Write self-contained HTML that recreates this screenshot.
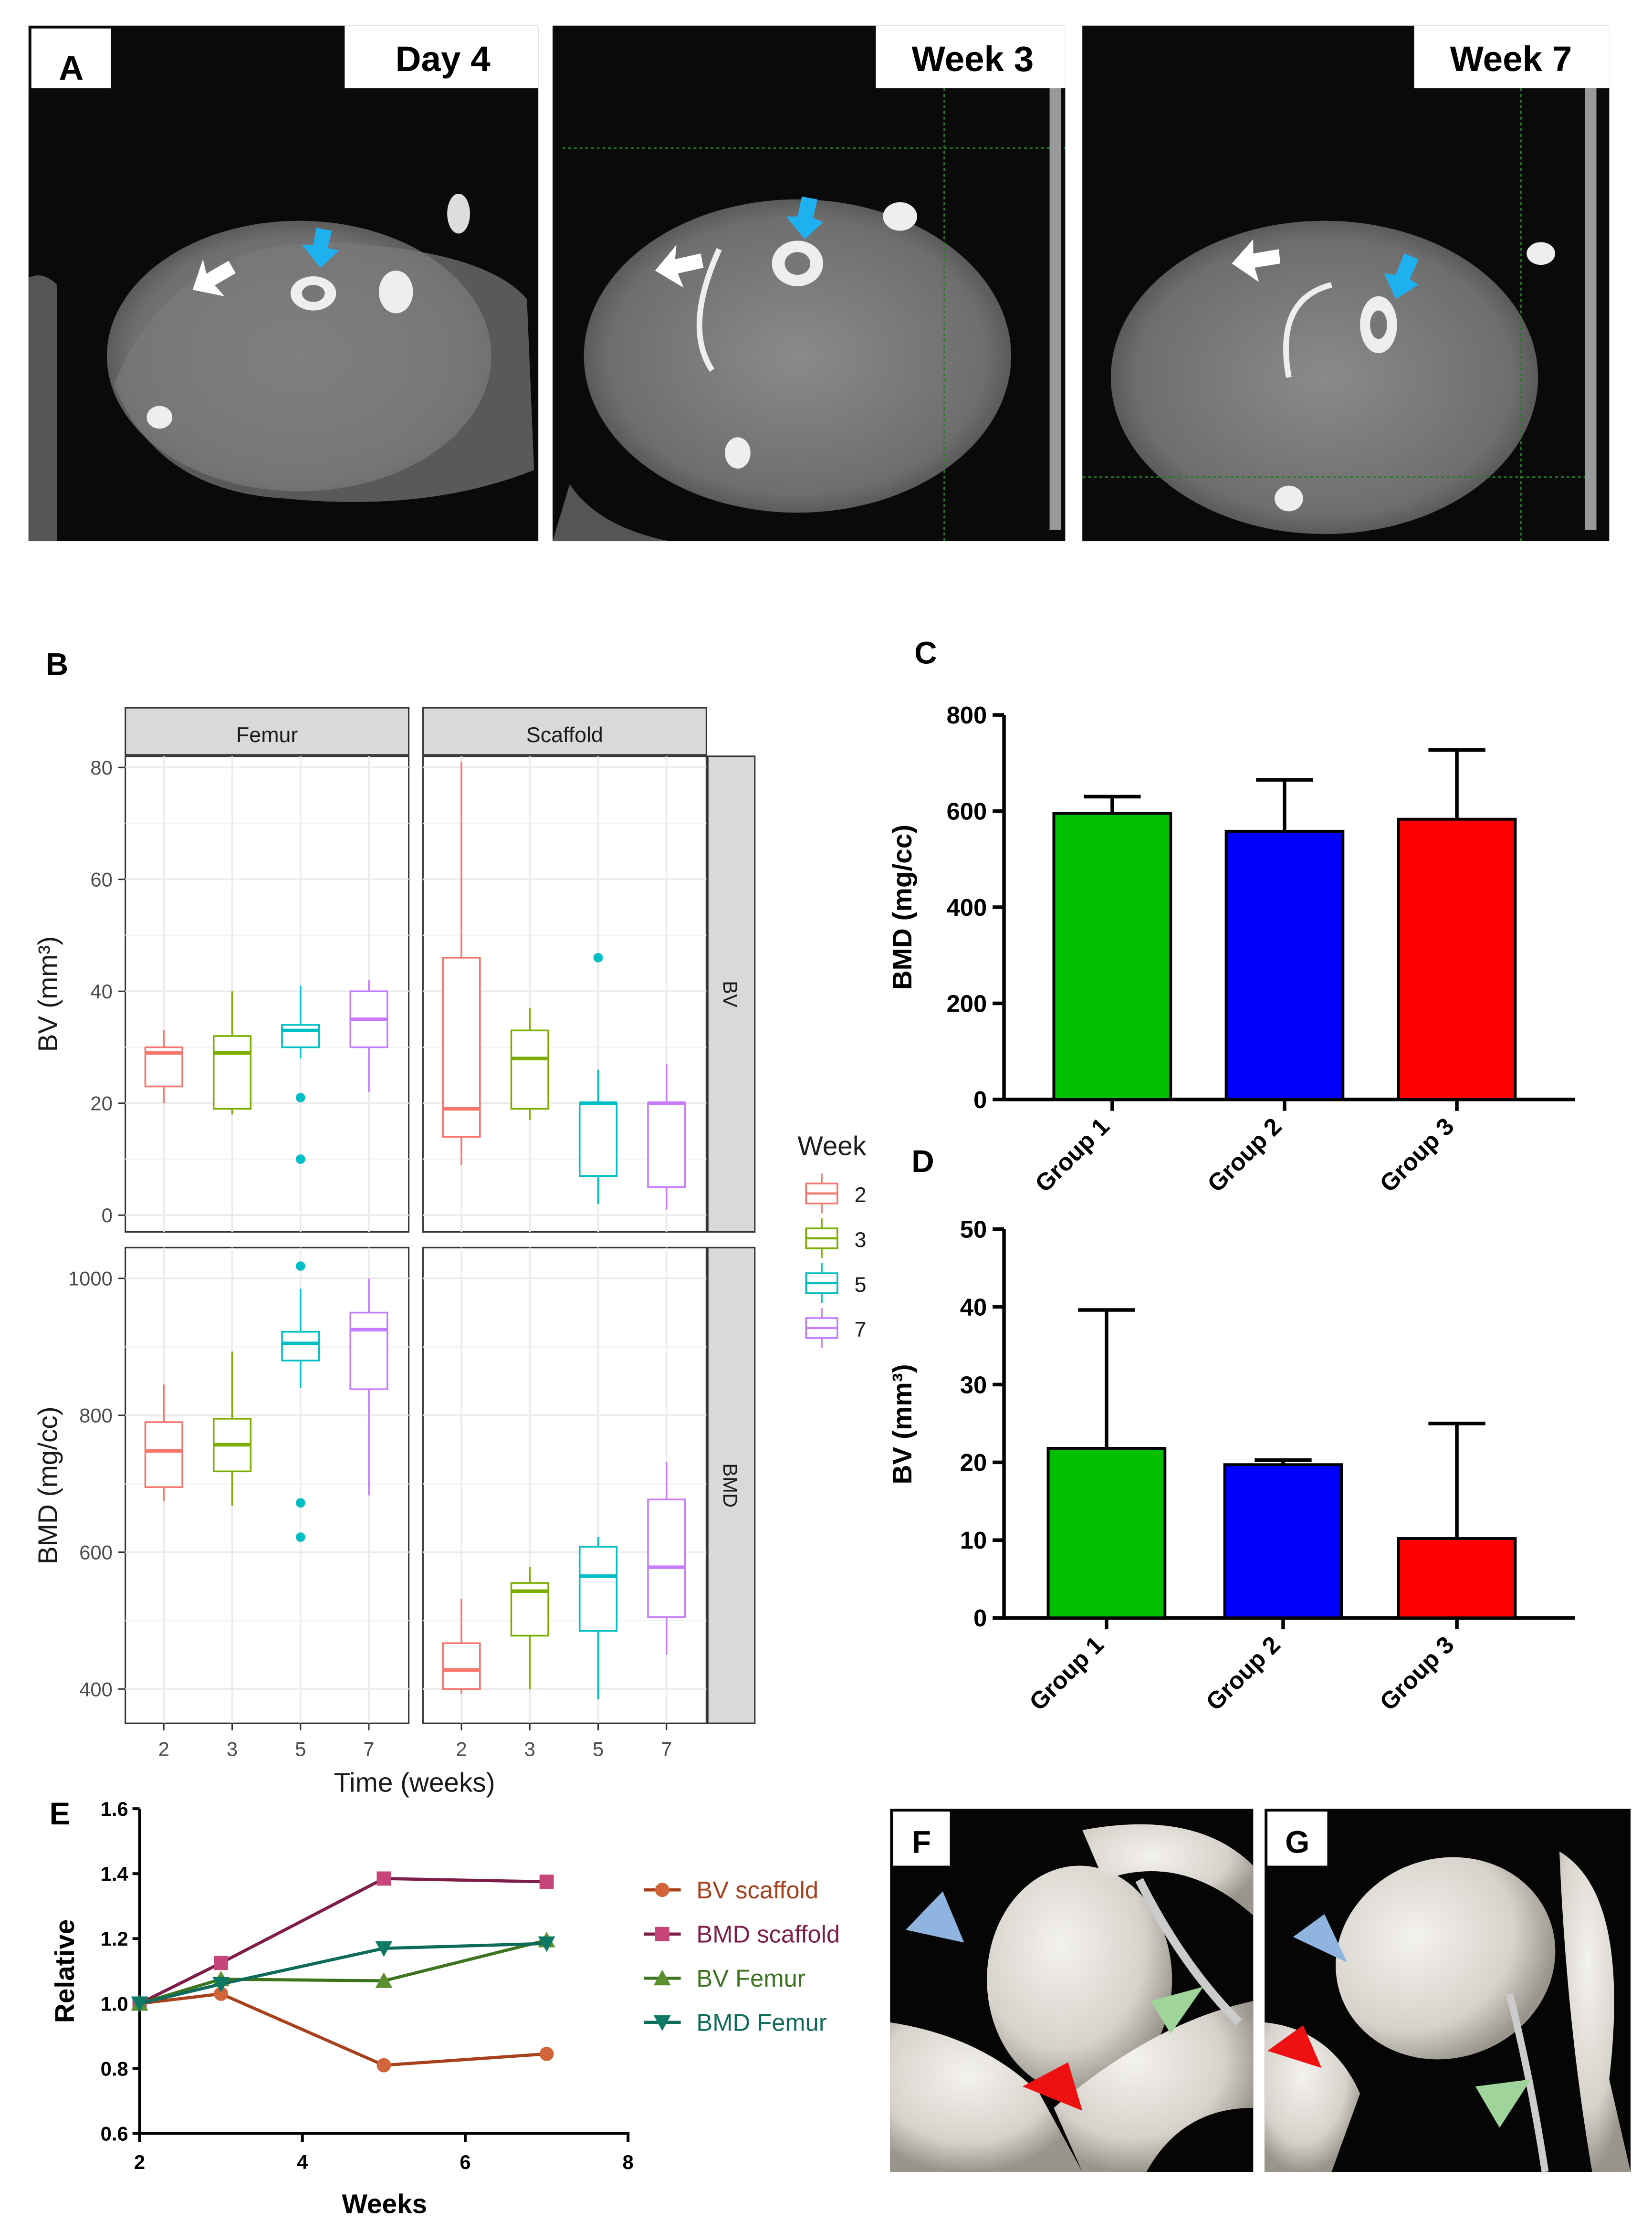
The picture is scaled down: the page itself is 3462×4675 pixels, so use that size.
<!DOCTYPE html>
<html><head><meta charset="utf-8"><style>
html,body{margin:0;padding:0;background:#fff;}
svg{display:block;font-family:"Liberation Sans",sans-serif;}
</style></head><body>
<svg id="fig" width="3462" height="4675" viewBox="0 0 1160 1566.5" xmlns="http://www.w3.org/2000/svg">
<defs>
<radialGradient id="body" cx="50%" cy="50%" r="55%"><stop offset="0" stop-color="#8a8a8a"/><stop offset="0.8" stop-color="#6e6e6e"/><stop offset="1" stop-color="#4a4a4a"/></radialGradient>
<radialGradient id="bone3d" cx="40%" cy="35%" r="65%"><stop offset="0" stop-color="#f4f2ee"/><stop offset="0.7" stop-color="#d6d2cb"/><stop offset="1" stop-color="#9a958c"/></radialGradient>
</defs>
<g id="panelA">
  <g>
    <rect x="20" y="18" width="358" height="362" fill="#0a0a0a"/>
    <path d="M20 195 Q30 190 40 200 L40 380 L20 380Z" fill="#555"/>
    <ellipse cx="210" cy="250" rx="135" ry="95" fill="url(#body)"/>
    <path d="M80 270 Q120 170 230 170 Q340 175 370 210 L375 330 Q300 360 200 350 Q110 345 80 270Z" fill="#7a7a7a" opacity="0.7"/>
    <ellipse cx="220" cy="206" rx="16" ry="12" fill="#eee"/><ellipse cx="220" cy="206" rx="8" ry="6" fill="#777"/>
    <ellipse cx="278" cy="205" rx="12" ry="15" fill="#eee"/>
    <ellipse cx="322" cy="150" rx="8" ry="14" fill="#ddd"/>
    <ellipse cx="112" cy="293" rx="9" ry="8" fill="#eee"/>
    <path d="M133 195 L150 180 L147 190 L165 190 L165 200 L148 200 L150 210Z" fill="#fff" transform="rotate(-30 150 195)"/>
    <path d="M225 188 L212 172 L220 172 L222 160 L233 162 L230 174 L238 176Z" fill="#1fb0f0"/>
    <rect x="242" y="18" width="136" height="44" fill="#fff"/>
    <text x="311" y="50" font-size="25" font-weight="bold" text-anchor="middle">Day 4</text>
    <rect x="22" y="20" width="56" height="42" fill="#fff"/>
    <text x="50" y="56" font-size="24" font-weight="bold" text-anchor="middle">A</text>
  </g>
  <g>
    <rect x="388" y="18" width="360" height="362" fill="#0a0a0a"/>
    <ellipse cx="560" cy="250" rx="150" ry="110" fill="url(#body)"/>
    <path d="M400 340 Q420 370 470 380 L388 380Z" fill="#555"/>
    <ellipse cx="560" cy="185" rx="18" ry="16" fill="#eee"/><ellipse cx="560" cy="185" rx="9" ry="8" fill="#777"/>
    <ellipse cx="632" cy="152" rx="12" ry="10" fill="#eee"/>
    <ellipse cx="518" cy="318" rx="9" ry="11" fill="#eee"/>
    <path d="M505 175 Q480 230 500 260" stroke="#eee" stroke-width="4" fill="none"/>
    <path d="M460 190 L475 172 L474 182 L492 178 L494 188 L476 192 L480 202Z" fill="#fff"/>
    <path d="M565 168 L552 152 L560 152 L563 138 L574 140 L571 153 L578 156Z" fill="#1fb0f0"/>
    <line x1="395" y1="104" x2="748" y2="104" stroke="#2a7a2a" stroke-dasharray="2,2"/>
    <line x1="663" y1="18" x2="663" y2="380" stroke="#2a7a2a" stroke-dasharray="2,2"/>
    <rect x="737" y="62" width="8" height="310" fill="#999"/>
    <rect x="615" y="18" width="133" height="44" fill="#fff"/>
    <text x="683" y="50" font-size="25" font-weight="bold" text-anchor="middle">Week 3</text>
  </g>
  <g>
    <rect x="760" y="18" width="370" height="362" fill="#0a0a0a"/>
    <ellipse cx="930" cy="265" rx="150" ry="110" fill="url(#body)"/>
    <ellipse cx="968" cy="228" rx="13" ry="20" fill="#eee"/><ellipse cx="968" cy="228" rx="6" ry="10" fill="#777"/>
    <path d="M935 200 Q895 210 905 265" stroke="#eee" stroke-width="4" fill="none"/>
    <ellipse cx="1082" cy="178" rx="10" ry="8" fill="#eee"/>
    <ellipse cx="905" cy="350" rx="10" ry="9" fill="#eee"/>
    <path d="M865 185 L880 168 L880 178 L898 175 L899 185 L881 188 L884 198Z" fill="#fff"/>
    <path d="M980 210 L972 192 L980 193 L986 178 L996 182 L990 196 L996 200Z" fill="#1fb0f0"/>
    <line x1="760" y1="335" x2="1120" y2="335" stroke="#2a7a2a" stroke-dasharray="2,2"/>
    <line x1="1068" y1="18" x2="1068" y2="380" stroke="#2a7a2a" stroke-dasharray="2,2"/>
    <rect x="1113" y="62" width="8" height="310" fill="#999"/>
    <rect x="993" y="18" width="137" height="44" fill="#fff"/>
    <text x="1061" y="50" font-size="25" font-weight="bold" text-anchor="middle">Week 7</text>
  </g>
</g>
<text x="40" y="474" font-size="22" font-weight="bold" text-anchor="middle">B</text>
<text x="650" y="466" font-size="22" font-weight="bold" text-anchor="middle">C</text>
<text x="648" y="823" font-size="22" font-weight="bold" text-anchor="middle">D</text>
<text x="42" y="1281" font-size="22" font-weight="bold" text-anchor="middle">E</text>
<g id="panelB"></g>
<g id="panelC"></g>
<g id="panelD"></g>
<g id="panelE"></g>
<g id="panelFG">
  <g>
    <rect x="625" y="1270" width="255" height="255" fill="#050505"/>
    <path d="M625 1420 Q690 1430 730 1470 L760 1525 L625 1525Z" fill="url(#bone3d)"/>
    <ellipse cx="758" cy="1390" rx="65" ry="80" fill="url(#bone3d)"/>
    <path d="M740 1480 Q810 1420 880 1405 L880 1480 Q830 1480 805 1525 L760 1525Z" fill="url(#bone3d)"/>
    <path d="M760 1285 Q840 1270 880 1310 L880 1345 Q830 1300 775 1320Z" fill="url(#bone3d)"/>
    <path d="M800 1320 Q830 1380 870 1420" stroke="#ccc" stroke-width="6" fill="none"/>
    <polygon points="636,1355 662,1328 677,1364" fill="#8fb4e0"/>
    <polygon points="808,1405 845,1395 822,1428" fill="#9fd49a"/>
    <polygon points="718,1465 750,1448 760,1482" fill="#ee1111"/>
    <rect x="627" y="1272" width="40" height="38" fill="#fff"/>
    <text x="647" y="1301" font-size="22" font-weight="bold" text-anchor="middle">F</text>
  </g>
  <g>
    <rect x="888" y="1270" width="257" height="255" fill="#050505"/>
    <path d="M888 1420 Q935 1425 955 1470 L935 1525 L888 1525Z" fill="url(#bone3d)"/>
    <ellipse cx="1015" cy="1375" rx="78" ry="70" fill="url(#bone3d)" transform="rotate(-20 1015 1375)"/>
    <path d="M1095 1300 Q1145 1330 1130 1460 L1145 1525 L1118 1525 Q1100 1420 1095 1300Z" fill="url(#bone3d)"/>
    <path d="M1060 1400 Q1075 1460 1085 1525" stroke="#ccc" stroke-width="5" fill="none"/>
    <polygon points="908,1360 930,1344 946,1378" fill="#8fb4e0"/>
    <polygon points="1036,1465 1075,1460 1053,1494" fill="#9fd49a"/>
    <polygon points="890,1440 915,1422 928,1452" fill="#ee1111"/>
    <rect x="890" y="1272" width="42" height="38" fill="#fff"/>
    <text x="911" y="1301" font-size="22" font-weight="bold" text-anchor="middle">G</text>
  </g>
</g>
</svg>
<script>
const NS="http://www.w3.org/2000/svg";
// ---- Panel B data ----
const weeks=["2","3","5","7"];
const weekColors=["#F8766D","#7CAE00","#00BFC4","#C77CFF"];
const bvTicks=[0,20,40,60,80];
const bmdTicks=[400,600,800,1000];
// [whiskerLow, Q1, median, Q3, whiskerHigh]
const bvFemur=[[20,23,29,30,33],[18,19,29,32,40],[28,30,33,34,41],[22,30,35,40,42]];
const bvFemurOut=[[],[],[21,10],[]];
const bvScaffold=[[9,14,19,46,81],[17,19,28,33,37],[2,7,20,20,26],[1,5,20,20,27]];
const bvScaffoldOut=[[],[],[46],[]];
const bmdFemur=[[675,695,748,790,845],[668,718,757,795,893],[840,880,905,922,985],[683,838,925,950,1000]];
const bmdFemurOut=[[],[],[1018,672,622],[]];
const bmdScaffold=[[393,400,428,467,532],[400,478,543,555,578],[385,485,565,608,622],[450,505,578,677,732]];
const bmdScaffoldOut=[[],[],[],[]];
// ---- Panel C/D data ----
const groups=["Group 1","Group 2","Group 3"];
const groupColors=["#00C000","#0000FF","#FF0000"];
const bmdMeans=[595,558,583];
const bmdErr=[630,665,727];
const bmdBarTicks=[0,200,400,600,800];
const bvMeans=[21.8,19.7,10.2];
const bvErr=[39.6,20.3,25];
const bvBarTicks=[0,10,20,30,40,50];
// ---- Panel E data ----
const eWeeks=[2,3,5,7];
const eNames=["BV scaffold","BMD scaffold","BV Femur","BMD Femur"];
const bvScaf=[1.0,1.03,0.81,0.845];
const bmdScaf=[1.0,1.125,1.385,1.375];
const bvFem=[1.0,1.075,1.07,1.195];
const bmdFem=[1.0,1.06,1.17,1.185];
const eXTicks=[2,4,6,8];
const eYTicks=[0.6,0.8,1.0,1.2,1.4,1.6];

function mk(tag,attrs,parent,text){const e=document.createElementNS(NS,tag);for(const k in attrs)e.setAttribute(k,attrs[k]);if(text!==undefined)e.textContent=text;parent.appendChild(e);return e;}

// Panel B
const B=document.getElementById('panelB');
const facetX=[88,297], facetW=199;
const rows=[{y0:531,y1:865,lo:-3,hi:82,ticks:bvTicks,data:[bvFemur,bvScaffold],out:[bvFemurOut,bvScaffoldOut],title:"BV",axisTitle:"BV (mm³)"},
            {y0:876,y1:1210,lo:350,hi:1045,ticks:bmdTicks,data:[bmdFemur,bmdScaffold],out:[bmdFemurOut,bmdScaffoldOut],title:"BMD",axisTitle:"BMD (mg/cc)"}];
function yB(r,v){return r.y1-(v-r.lo)/(r.hi-r.lo)*(r.y1-r.y0);}
function xB(f,i){return facetX[f]+27+i*48;}
["Femur","Scaffold"].forEach((n,f)=>{
  let s=mk('rect',{x:facetX[f],y:497,width:facetW,height:33,fill:"#d9d9d9",stroke:"#333","stroke-width":1},B);
  
  mk('text',{x:facetX[f]+facetW/2,y:521,"font-size":15,"text-anchor":"middle",fill:"#1a1a1a"},B,n);
});
rows.forEach((r,ri)=>{
  let st=mk('rect',{x:497,y:r.y0,width:33,height:r.y1-r.y0,fill:"#d9d9d9",stroke:"#333","stroke-width":1},B);
  
  mk('text',{x:508,y:(r.y0+r.y1)/2,"font-size":14,"text-anchor":"middle",fill:"#1a1a1a",transform:`rotate(90 508 ${(r.y0+r.y1)/2})`},B,r.title);
  r.ticks.forEach(t=>{mk('text',{x:79,y:yB(r,t)+5,"font-size":14,"text-anchor":"end",fill:"#4d4d4d"},B,t);mk('line',{x1:83,x2:88,y1:yB(r,t),y2:yB(r,t),stroke:"#333"},B);});
  let at=mk('text',{x:40,y:(r.y0+r.y1)/2,"font-size":19,"text-anchor":"middle",fill:"#1a1a1a",transform:`rotate(-90 40 ${(r.y0+r.y1)/2})`},B,r.axisTitle);
  
  [0,1].forEach(f=>{
    let p=mk('rect',{x:facetX[f],y:r.y0,width:facetW,height:r.y1-r.y0,fill:"#fff",stroke:"#333","stroke-width":1},B);
    
    for(let k=0;k<r.ticks.length;k++){const y=yB(r,r.ticks[k]);mk('line',{x1:facetX[f],x2:facetX[f]+facetW,y1:y,y2:y,stroke:"#ebebeb","stroke-width":1.2},B);
      if(k<r.ticks.length-1){const ym=yB(r,(r.ticks[k]+r.ticks[k+1])/2);mk('line',{x1:facetX[f],x2:facetX[f]+facetW,y1:ym,y2:ym,stroke:"#f4f4f4"},B);}}
    weeks.forEach((w,i)=>mk('line',{x1:xB(f,i),x2:xB(f,i),y1:r.y0,y2:r.y1,stroke:"#ebebeb","stroke-width":1.2},B));
    r.data[f].forEach((d,i)=>{
      const x=xB(f,i),c=weekColors[i],hw=13;
      const g=mk('g',{},B);
      
      mk('line',{x1:x,x2:x,y1:yB(r,d[0]),y2:yB(r,d[1]),stroke:c,"stroke-width":1.2},g);
      mk('line',{x1:x,x2:x,y1:yB(r,d[3]),y2:yB(r,d[4]),stroke:c,"stroke-width":1.2},g);
      mk('rect',{x:x-hw,y:yB(r,d[3]),width:2*hw,height:yB(r,d[1])-yB(r,d[3]),fill:"#fff",stroke:c,"stroke-width":1.2},g);
      mk('line',{x1:x-hw,x2:x+hw,y1:yB(r,d[2]),y2:yB(r,d[2]),stroke:c,"stroke-width":2.5},g);
      r.out[f][i].forEach(o=>mk('circle',{cx:x,cy:yB(r,o),r:3.3,fill:c},g));
    });
    if(ri===1){weeks.forEach((w,i)=>{mk('line',{x1:xB(f,i),x2:xB(f,i),y1:1210,y2:1215,stroke:"#333"},B);mk('text',{x:xB(f,i),y:1233,"font-size":14,"text-anchor":"middle",fill:"#4d4d4d"},B,w);});}
  });
});
let xt=mk('text',{x:291,y:1258,"font-size":19,"text-anchor":"middle",fill:"#1a1a1a"},B,"Time (weeks)");

mk('text',{x:560,y:811,"font-size":19,fill:"#1a1a1a"},B,"Week");
weeks.forEach((w,i)=>{const y=838+i*31.5;const g=mk('g',{},B);
  
  mk('line',{x1:577,x2:577,y1:y-14,y2:y+14,stroke:weekColors[i],"stroke-width":1.2},g);
  mk('rect',{x:566,y:y-7,width:22,height:14,fill:"#fff",stroke:weekColors[i],"stroke-width":1.2},g);
  mk('line',{x1:566,x2:588,y1:y,y2:y,stroke:weekColors[i],"stroke-width":1.5},g);
  mk('text',{x:600,y:y+6,"font-size":15,fill:"#1a1a1a"},g,w);});

// Bar charts
function barChart(G,y0px,y1px,hi,ticks,means,errs,xs,title,titleY){
  const yS=v=>y0px-(v/hi)*(y0px-y1px);
  mk('line',{x1:705,x2:705,y1:yS(hi),y2:y0px+1,stroke:"#000","stroke-width":2.5},G);
  mk('line',{x1:704,x2:1106,y1:y0px,y2:y0px,stroke:"#000","stroke-width":2.5},G);
  ticks.forEach(t=>{mk('line',{x1:697,x2:705,y1:yS(t),y2:yS(t),stroke:"#000","stroke-width":2.5},G);
    mk('text',{x:693,y:yS(t)+6,"font-size":17,"font-weight":"bold","text-anchor":"end"},G,t);});
  means.forEach((m,i)=>{const x=xs[i];
    mk('line',{x1:x+41,x2:x+41,y1:yS(m),y2:yS(errs[i]),stroke:"#000","stroke-width":2.5},G);
    mk('line',{x1:x+21,x2:x+61,y1:yS(errs[i]),y2:yS(errs[i]),stroke:"#000","stroke-width":2.5},G);
    const b=mk('rect',{x:x,y:yS(m),width:82,height:yS(0)-yS(m),fill:groupColors[i],stroke:"#000","stroke-width":2},G);
    
    mk('line',{x1:x+41,x2:x+41,y1:y0px,y2:y0px+8,stroke:"#000","stroke-width":2.5},G);
    const lx=x+40,ly=y0px+20;
    mk('text',{x:lx,y:ly,"font-size":17,"font-weight":"bold","text-anchor":"end",transform:`rotate(-45 ${lx} ${ly})`},G,groups[i]);
  });
  const t=mk('text',{x:640,y:titleY,"font-size":19,"font-weight":"bold","text-anchor":"middle",transform:`rotate(-90 640 ${titleY})`},G,title);
  
}
barChart(document.getElementById('panelC'),772,502,800,bmdBarTicks,bmdMeans,bmdErr,[740,861,982],"BMD (mg/cc)",637);
barChart(document.getElementById('panelD'),1136,863,50,bvBarTicks,bvMeans,bvErr,[736,860,982],"BV (mm³)",1000);

// Panel E
const E=document.getElementById('panelE');
const xE=v=>98+(v-2)/6*343, yE=v=>1498-(v-0.6)/1.0*228;
mk('line',{x1:98,x2:98,y1:1270,y2:1499,stroke:"#000","stroke-width":2},E);
mk('line',{x1:97,x2:442,y1:1498,y2:1498,stroke:"#000","stroke-width":2},E);
eYTicks.forEach(t=>{mk('line',{x1:93,x2:98,y1:yE(t),y2:yE(t),stroke:"#000","stroke-width":2},E);
  mk('text',{x:90,y:yE(t)+5,"font-size":14,"font-weight":"bold","text-anchor":"end"},E,t.toFixed(1));});
eXTicks.forEach(t=>{mk('line',{x1:xE(t),x2:xE(t),y1:1498,y2:1504,stroke:"#000","stroke-width":2},E);
  mk('text',{x:xE(t),y:1523,"font-size":14,"font-weight":"bold","text-anchor":"middle"},E,t);});
const series=[bvScaf,bmdScaf,bvFem,bmdFem];
const lineC=["#A8401C","#7E1E48","#3C7420","#0E6B5A"], markC=["#D2643A","#C8457A","#5A9030","#0E7A66"];
const shapes=["circle","square","tri","dtri"];
function marker(g,s,x,y,c){if(s==="circle")mk('circle',{cx:x,cy:y,r:5,fill:c},g);
  else if(s==="square")mk('rect',{x:x-5,y:y-5,width:10,height:10,fill:c},g);
  else if(s==="tri")mk('polygon',{points:`${x},${y-6} ${x-6},${y+5} ${x+6},${y+5}`,fill:c},g);
  else mk('polygon',{points:`${x},${y+6} ${x-6},${y-5} ${x+6},${y-5}`,fill:c},g);}
series.forEach((s,k)=>{const g=mk('g',{},E);
  
  mk('polyline',{points:s.map((v,i)=>xE(eWeeks[i])+','+yE(v)).join(' '),fill:"none",stroke:lineC[k],"stroke-width":2.2},g);
  s.forEach((v,i)=>marker(g,shapes[k],xE(eWeeks[i]),yE(v),markC[k]));
  const ly=1327+k*31;const lg=mk('g',{},E);
  
  mk('line',{x1:452,x2:478,y1:ly,y2:ly,stroke:lineC[k],"stroke-width":2.2},lg);
  marker(lg,shapes[k],465,ly,markC[k]);
  mk('text',{x:489,y:ly+6,"font-size":17,fill:lineC[k]},lg,eNames[k]);
});
let ey=mk('text',{x:52,y:1384,"font-size":19,"font-weight":"bold","text-anchor":"middle",transform:"rotate(-90 52 1384)"},E,"Relative");

let ex=mk('text',{x:270,y:1554,"font-size":19,"font-weight":"bold","text-anchor":"middle"},E,"Weeks");

</script>
</body></html>
